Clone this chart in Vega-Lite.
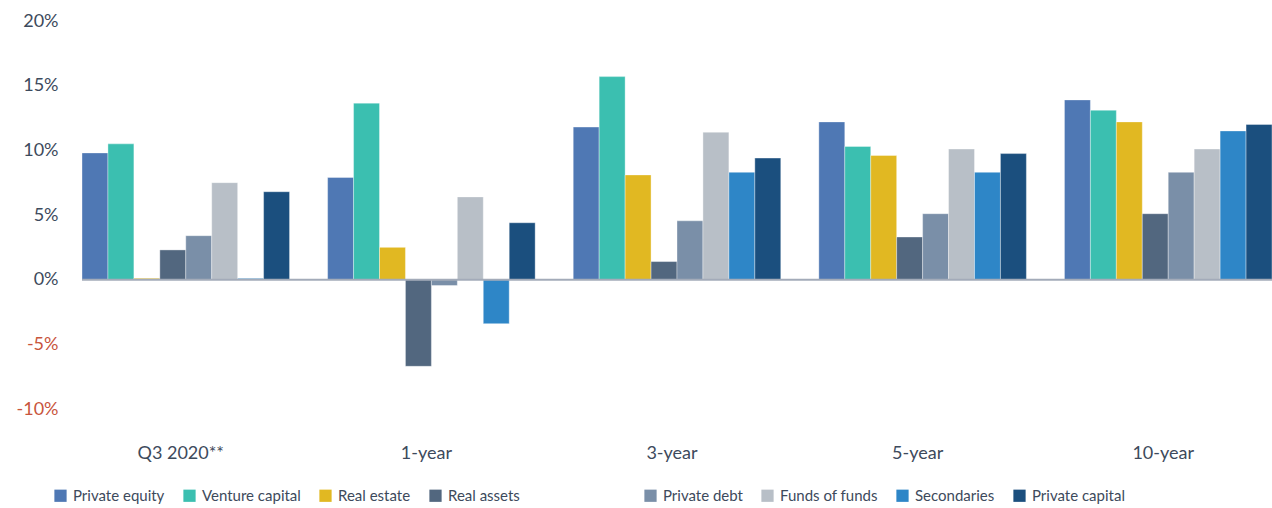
{
  "$schema": "https://vega.github.io/schema/vega-lite/v6.json",
  "autosize": {"type": "none"},
  "width": 1190,
  "height": 388,
  "padding": {"left": 82, "top": 21, "right": 0, "bottom": 99},
  "background": "white",
  "config": {
    "view": {"stroke": null},
    "font": "Lato"
  },
  "data": {
    "values": [
      {"period": "Q3 2020**", "series": "Private equity", "value": 9.8},
      {"period": "Q3 2020**", "series": "Venture capital", "value": 10.5},
      {"period": "Q3 2020**", "series": "Real estate", "value": 0.1},
      {"period": "Q3 2020**", "series": "Real assets", "value": 2.3},
      {"period": "Q3 2020**", "series": "Private debt", "value": 3.4},
      {"period": "Q3 2020**", "series": "Funds of funds", "value": 7.5},
      {"period": "Q3 2020**", "series": "Secondaries", "value": 0.1},
      {"period": "Q3 2020**", "series": "Private capital", "value": 6.8},
      {"period": "1-year", "series": "Private equity", "value": 7.9},
      {"period": "1-year", "series": "Venture capital", "value": 13.65},
      {"period": "1-year", "series": "Real estate", "value": 2.5},
      {"period": "1-year", "series": "Real assets", "value": -6.7},
      {"period": "1-year", "series": "Private debt", "value": -0.45},
      {"period": "1-year", "series": "Funds of funds", "value": 6.4},
      {"period": "1-year", "series": "Secondaries", "value": -3.4},
      {"period": "1-year", "series": "Private capital", "value": 4.4},
      {"period": "3-year", "series": "Private equity", "value": 11.8},
      {"period": "3-year", "series": "Venture capital", "value": 15.7},
      {"period": "3-year", "series": "Real estate", "value": 8.1},
      {"period": "3-year", "series": "Real assets", "value": 1.4},
      {"period": "3-year", "series": "Private debt", "value": 4.55},
      {"period": "3-year", "series": "Funds of funds", "value": 11.4},
      {"period": "3-year", "series": "Secondaries", "value": 8.3},
      {"period": "3-year", "series": "Private capital", "value": 9.4},
      {"period": "5-year", "series": "Private equity", "value": 12.2},
      {"period": "5-year", "series": "Venture capital", "value": 10.3},
      {"period": "5-year", "series": "Real estate", "value": 9.6},
      {"period": "5-year", "series": "Real assets", "value": 3.3},
      {"period": "5-year", "series": "Private debt", "value": 5.1},
      {"period": "5-year", "series": "Funds of funds", "value": 10.1},
      {"period": "5-year", "series": "Secondaries", "value": 8.3},
      {"period": "5-year", "series": "Private capital", "value": 9.75},
      {"period": "10-year", "series": "Private equity", "value": 13.9},
      {"period": "10-year", "series": "Venture capital", "value": 13.1},
      {"period": "10-year", "series": "Real estate", "value": 12.2},
      {"period": "10-year", "series": "Real assets", "value": 5.1},
      {"period": "10-year", "series": "Private debt", "value": 8.3},
      {"period": "10-year", "series": "Funds of funds", "value": 10.1},
      {"period": "10-year", "series": "Secondaries", "value": 11.5},
      {"period": "10-year", "series": "Private capital", "value": 12.0}
    ]
  },
  "encoding": {
    "x": {
      "field": "period",
      "type": "nominal",
      "sort": ["Q3 2020**", "1-year", "3-year", "5-year", "10-year"],
      "scale": {"paddingInner": 0.155, "paddingOuter": 0},
      "axis": {
        "title": null,
        "domain": false,
        "ticks": false,
        "labelAngle": 0,
        "labelPadding": 35,
        "labelFontSize": 18,
        "labelColor": "#3d4a5c",
        "labelOffset": -5
      }
    },
    "xOffset": {
      "field": "series",
      "type": "nominal",
      "scale": {
        "domain": ["Private equity", "Venture capital", "Real estate", "Real assets", "Private debt", "Funds of funds", "Secondaries", "Private capital"],
        "paddingInner": 0, "paddingOuter": 0
      }
    },
    "y": {
      "field": "value",
      "type": "quantitative",
      "scale": {"domain": [-10, 20], "nice": false},
      "axis": {
        "title": null,
        "domain": false,
        "ticks": false,
        "grid": false,
        "values": [-10, -5, 0, 5, 10, 15, 20],
        "labelExpr": "datum.value + '%'",
        "labelPadding": 24,
        "labelFontSize": 18,
        "labelColor": {"condition": {"test": "datum.value < 0", "value": "#c8553d"}, "value": "#3d4a5c"}
      }
    }
  },
  "layer": [
    {
      "transform": [{"filter": {"field": "series", "oneOf": ["Private equity", "Venture capital", "Real estate", "Real assets"]}}],
      "mark": {"type": "bar", "stroke": "#ffffff", "strokeWidth": 0.6, "strokeOpacity": 0.6},
      "encoding": {
        "color": {
          "field": "series",
          "type": "nominal",
          "scale": {
            "domain": ["Private equity", "Venture capital", "Real estate", "Real assets"],
            "range": ["#4f78b4", "#3bbfb0", "#e1b822", "#52677f"]
          },
          "legend": {
            "title": null,
            "orient": "none",
            "direction": "horizontal",
            "legendX": -29,
            "legendY": 467,
            "symbolType": "square",
            "symbolSize": 150,
            "symbolStrokeWidth": 0,
            "labelFontSize": 15,
            "labelColor": "#3d4a5c",
            "labelOffset": 5,
            "columnPadding": 17
          }
        }
      }
    },
    {
      "transform": [{"filter": {"field": "series", "oneOf": ["Private debt", "Funds of funds", "Secondaries", "Private capital"]}}],
      "mark": {"type": "bar", "stroke": "#ffffff", "strokeWidth": 0.6, "strokeOpacity": 0.6},
      "encoding": {
        "color": {
          "field": "series",
          "type": "nominal",
          "scale": {
            "domain": ["Private debt", "Funds of funds", "Secondaries", "Private capital"],
            "range": ["#7a8fa8", "#b8bfc7", "#2e86c7", "#1b4f7e"]
          },
          "legend": {
            "title": null,
            "orient": "none",
            "direction": "horizontal",
            "legendX": 561,
            "legendY": 467,
            "symbolType": "square",
            "symbolSize": 150,
            "symbolStrokeWidth": 0,
            "labelFontSize": 15,
            "labelColor": "#3d4a5c",
            "labelOffset": 5,
            "columnPadding": 17
          }
        }
      }
    },
    {
      "mark": {"type": "rule", "color": "#a3abb9", "strokeWidth": 2},
      "data": {"values": [{"zero": 0}]},
      "encoding": {"y": {"field": "zero", "type": "quantitative"}, "x": null, "xOffset": null}
    }
  ],
  "resolve": {"scale": {"color": "independent"}, "legend": {"color": "independent"}}
}
